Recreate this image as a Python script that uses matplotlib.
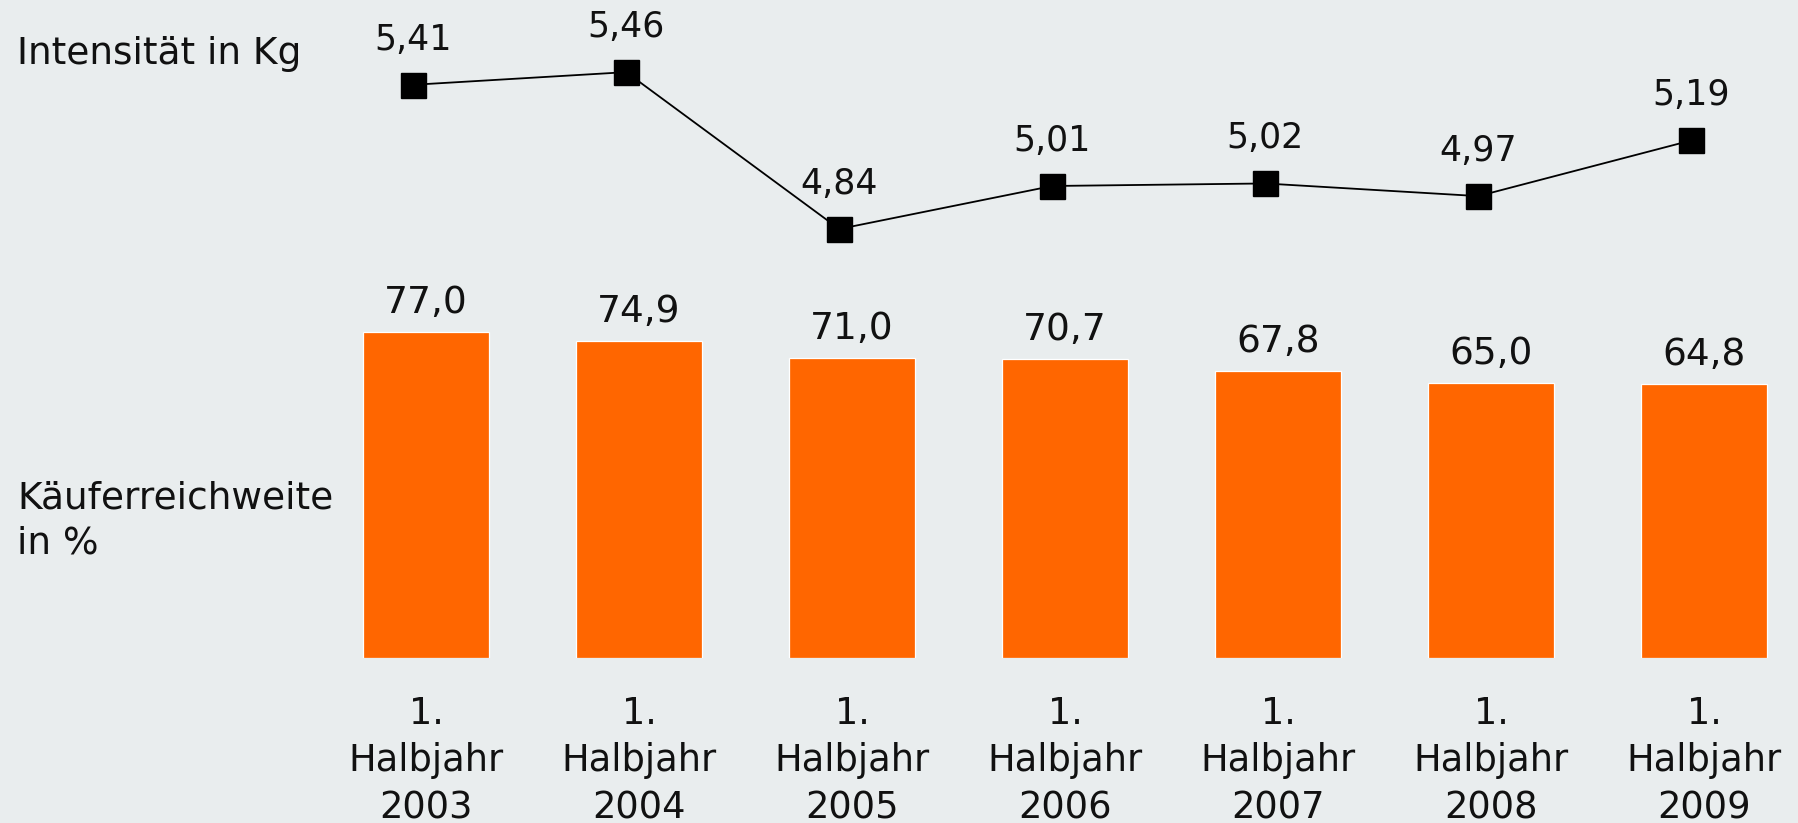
import matplotlib
matplotlib.use("Agg")
import matplotlib.pyplot as plt
import numpy as np

categories = ["1.\nHalbjahr\n2003", "1.\nHalbjahr\n2004", "1.\nHalbjahr\n2005",
              "1.\nHalbjahr\n2006", "1.\nHalbjahr\n2007", "1.\nHalbjahr\n2008",
              "1.\nHalbjahr\n2009"]
reach = [77.0, 74.9, 71.0, 70.7, 67.8, 65.0, 64.8]
intensity = [5.41, 5.46, 4.84, 5.01, 5.02, 4.97, 5.19]

def de(v, nd):
    return f"{v:.{nd}f}".replace(".", ",")

BG = "#E9EDEE"
ORANGE = "#FF6600"
TXT = "#111111"
W, H = 1798, 823
fig = plt.figure(figsize=(W / 100, H / 100), dpi=100, facecolor=BG)
plt.rcParams['font.family'] = ['DejaVu Sans']

x = np.arange(len(categories))
xlim = (-2.0, -2.0 + W / 213.0)

# bars
ax = fig.add_axes([0, 165 / H, 1, 1 - 165 / H])
ax.set_facecolor("none")
ax.bar(x, reach, width=0.587, color=ORANGE, edgecolor="white", linewidth=0.9)
ax.set_xlim(*xlim)
ax.set_ylim(0, (H - 165) / 4.23)
for xi, v in zip(x, reach):
    ax.annotate(de(v, 1), (xi, v), xytext=(0, 21), textcoords="offset points",
                ha="center", va="center", fontsize=27, color=TXT)
ax.set_xticks(x)
ax.set_xticklabels(categories, fontsize=26.5, color=TXT, linespacing=1.34)
ax.tick_params(axis="x", length=0, pad=27)
ax.set_yticks([])
for s in ax.spines.values():
    s.set_visible(False)

# line
ax2 = fig.add_axes([0, 0, 1, 1])
ax2.set_facecolor("none")
ax2.set_xlim(*xlim)
ax2.set_ylim(4.84 - 594 / 253, 4.84 + 229 / 253)
xl = x - 0.06
ax2.plot(xl, intensity, color="black", linewidth=1.3, marker="s",
         markersize=18, markerfacecolor="black", markeredgecolor="black")
for xi, v in zip(xl, intensity):
    ax2.annotate(de(v, 2), (xi, v), xytext=(0, 32.5), textcoords="offset points",
                 ha="center", va="center", fontsize=25, color=TXT)
ax2.axis("off")

fig.text(17 / W, 1 - 54 / H, "Intensität in Kg", fontsize=27, va="center",
         ha="left", color=TXT)
fig.text(17 / W, 1 - 521 / H, "Käuferreichweite\nin %", fontsize=27,
         va="center", ha="left", color=TXT, linespacing=1.30)

fig.savefig("out.png", dpi=100, facecolor=BG)
